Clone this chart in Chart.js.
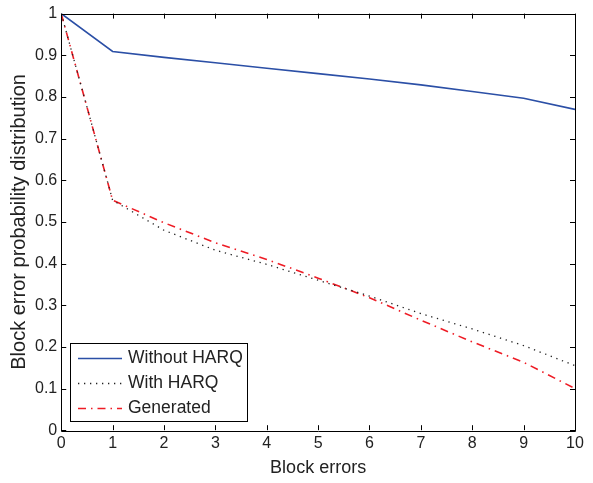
<!DOCTYPE html>
<html>
<head>
<meta charset="utf-8">
<style>
html,body{margin:0;padding:0;background:#fff;}
#wrap{width:593px;height:483px;position:relative;}
</style>
<script src="https://cdn.jsdelivr.net/npm/chart.js@4.4.1/dist/chart.umd.min.js"></script>
</head>
<body>
<div id="wrap"><canvas id="c" width="593" height="483"></canvas></div>
<script>
const blockErrors = [0,1,2,3,4,5,6,7,8,9,10];
const withoutHARQ = [1.0,0.909,0.895,0.882,0.869,0.856,0.843,0.829,0.813,0.797,0.770];
const withHARQ    = [1.0,0.552,0.480,0.432,0.398,0.360,0.322,0.280,0.243,0.203,0.155];
const generated   = [1.0,0.552,0.498,0.450,0.410,0.365,0.318,0.264,0.212,0.163,0.100];
const xTicks = [0,1,2,3,4,5,6,7,8,9,10];
const yTicks = [0,0.1,0.2,0.3,0.4,0.5,0.6,0.7,0.8,0.9,1];
const legendLabels = ['Without HARQ','With HARQ','Generated'];

const FONT = "'Liberation Sans', Arial, Helvetica, sans-serif";

function toPts(arr){ return blockErrors.map((x,i)=>({x:x,y:arr[i]})); }

const frameTicks = {
  id:'frameTicks',
  afterDatasetsDraw(chart){
    const {ctx, chartArea:a, scales:{x,y}} = chart;
    ctx.save();
    ctx.strokeStyle = '#000';
    ctx.lineWidth = 1;
    ctx.beginPath();
    const L = 5;
    xTicks.forEach(v=>{
      const px = Math.round(x.getPixelForValue(v))+0.5;
      ctx.moveTo(px,a.bottom); ctx.lineTo(px,a.bottom-L);
      ctx.moveTo(px,a.top); ctx.lineTo(px,a.top+L);
    });
    yTicks.forEach(v=>{
      const py = Math.round(y.getPixelForValue(v))+0.5;
      ctx.moveTo(a.left,py); ctx.lineTo(a.left+L,py);
      ctx.moveTo(a.right,py); ctx.lineTo(a.right-L,py);
    });
    ctx.stroke();
    ctx.beginPath();
    ctx.rect(Math.round(a.left)+0.5, Math.round(a.top)+0.5, Math.round(a.right-a.left), Math.round(a.bottom-a.top));
    ctx.stroke();

    // legend box
    const bx = 70.5, by = 343.5, bw = 177, bh = 78;
    ctx.fillStyle = '#fff';
    ctx.fillRect(bx,by,bw,bh);
    ctx.strokeRect(bx,by,bw,bh);
    ctx.font = '17.5px ' + FONT;
    ctx.textBaseline = 'middle';
    ctx.fillStyle = '#222';
    chart.data.datasets.forEach((ds,i)=>{
      const cy = by + 15 + i*25;
      ctx.save();
      ctx.strokeStyle = ds.borderColor;
      ctx.lineWidth = ds.borderWidth;
      ctx.setLineDash(ds.borderDash || []);
      ctx.beginPath();
      ctx.moveTo(78, cy); ctx.lineTo(122, cy);
      ctx.stroke();
      ctx.restore();
      ctx.fillText(ds.label, 128, cy);
    });
    ctx.restore();
  }
};

new Chart(document.getElementById('c'), {
  type:'line',
  data:{
    datasets:[
      {label:legendLabels[0], data:toPts(withoutHARQ), borderColor:'#2b4fa6', borderWidth:1.6, pointRadius:0, fill:false, tension:0},
      {label:legendLabels[1], data:toPts(withHARQ), borderColor:'#222', borderWidth:1.3, borderDash:[1.3,4.7], pointRadius:0, fill:false, tension:0},
      {label:legendLabels[2], data:toPts(generated), borderColor:'#ee1c25', borderWidth:1.6, borderDash:[8,5,1.5,5], pointRadius:0, fill:false, tension:0}
    ]
  },
  options:{
    responsive:false,
    animation:false,
    devicePixelRatio:1,
    layout:{padding:{left:7,right:18,top:12,bottom:4}},
    plugins:{legend:{display:false}, tooltip:{enabled:false}},
    scales:{
      x:{
        type:'linear', min:0, max:10,
        afterBuildTicks(s){ s.ticks = xTicks.map(v=>({value:v})); },
        grid:{display:false, drawTicks:false},
        border:{display:false},
        ticks:{color:'#222', font:{family:FONT,size:16}, padding:4, maxRotation:0},
        title:{display:true, text:'Block errors', color:'#222', font:{family:FONT,size:18}, padding:{top:0,bottom:0}}
      },
      y:{
        type:'linear', min:0, max:1,
        afterBuildTicks(s){ s.ticks = yTicks.map(v=>({value:v})); },
        grid:{display:false, drawTicks:false},
        border:{display:false},
        ticks:{color:'#222', font:{family:FONT,size:16}, padding:4, callback:v=>String(+v.toFixed(1))},
        title:{display:true, text:'Block error probability distribution', color:'#222', font:{family:FONT,size:20}, padding:{top:0,bottom:0}}
      }
    }
  },
  plugins:[frameTicks]
});
</script>
</body>
</html>
